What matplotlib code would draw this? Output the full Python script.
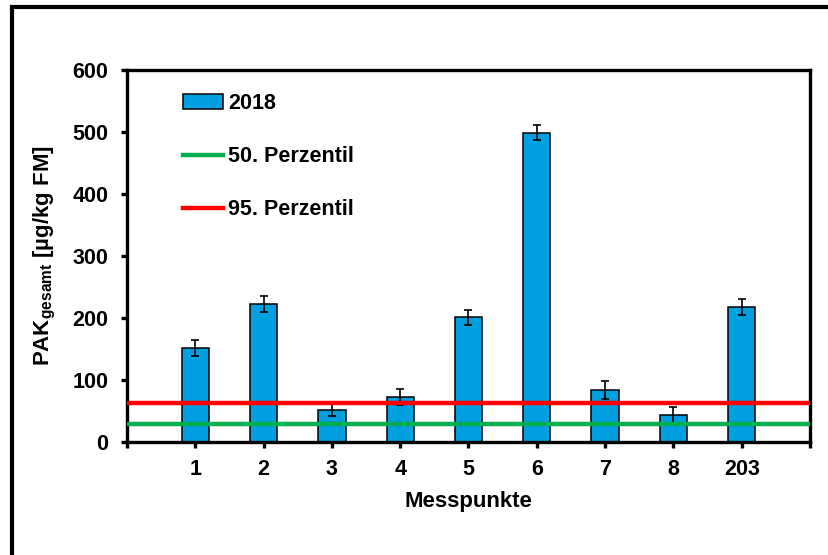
import matplotlib
matplotlib.use("Agg")
import matplotlib.pyplot as plt
from matplotlib.patches import Rectangle
import numpy as np

categories = ["1", "2", "3", "4", "5", "6", "7", "8", "203"]
values_2018 = [152, 222, 52, 72, 201, 499, 84, 44, 218]
errors_2018 = [13, 13, 10, 13, 12, 12, 14, 13, 13]
perzentil_50 = 28.5
perzentil_95 = 62.5
y_ticks = [0, 100, 200, 300, 400, 500, 600]

plt.rcParams['font.family'] = ['Liberation Sans', 'DejaVu Sans']
plt.rcParams['font.weight'] = 'bold'
plt.rcParams['mathtext.fontset'] = 'custom'
plt.rcParams['mathtext.rm'] = 'Liberation Sans:bold'
plt.rcParams['mathtext.it'] = 'Liberation Sans:bold'
plt.rcParams['mathtext.bf'] = 'Liberation Sans:bold'

W, H = 829, 555
fig = plt.figure(figsize=(W / 100, H / 100), dpi=100)

# outer frame (partially cut by image edge)
fig.patches.append(Rectangle((12 / W, -0.05), 1.2, (H - 7) / H + 0.05,
                             transform=fig.transFigure, fill=False,
                             edgecolor='black', linewidth=3.0, zorder=0))

ax = fig.add_axes([127 / W, 1 - 442 / H, (810 - 127) / W, (442 - 70) / H])

x = np.arange(1, len(categories) + 1)
bar_color = '#009FE0'
ax.bar(x, values_2018, width=0.4, color=bar_color, edgecolor='black',
       linewidth=1.1, label='2018', zorder=2)
ax.errorbar(x, values_2018, yerr=errors_2018, fmt='none', ecolor='black',
            elinewidth=1.2, capsize=3, capthick=1.2, zorder=3)
ax.axhline(perzentil_50, color='#00B050', linewidth=3.2, label='50. Perzentil', zorder=4)
ax.axhline(perzentil_95, color='#FF0000', linewidth=3.2, label='95. Perzentil', zorder=4)

ax.set_xlim(0, len(categories) + 1)
ax.set_ylim(0, 600)
ax.set_yticks(y_ticks)
ax.set_yticklabels([str(t) for t in y_ticks])
ax.set_xticks(np.arange(0, len(categories) + 2))
ax.set_xticklabels([''] + categories + [''])

for s in ax.spines.values():
    s.set_linewidth(2.4)
ax.tick_params(axis='both', direction='out', length=4.5, width=2.4,
               labelsize=15.5)
ax.tick_params(axis='y', pad=9)
ax.tick_params(axis='x', pad=8)

ax.set_xlabel('Messpunkte', fontsize=16, fontweight='bold', labelpad=8)
ax.set_ylabel(r'PAK$_{\mathrm{gesamt}}$ [µg/kg FM]', fontsize=16,
              fontweight='bold', labelpad=10)

handles, labels = ax.get_legend_handles_labels()
order = [labels.index('2018'), labels.index('50. Perzentil'), labels.index('95. Perzentil')]
leg = ax.legend([handles[i] for i in order], [labels[i] for i in order],
                loc='upper left', bbox_to_anchor=(0.082, 0.937),
                frameon=False, borderpad=0, borderaxespad=0,
                handlelength=1.86, handletextpad=0.25, labelspacing=1.48,
                prop={'size': 15.5, 'weight': 'bold'})

fig.savefig('out.png', dpi=100)
